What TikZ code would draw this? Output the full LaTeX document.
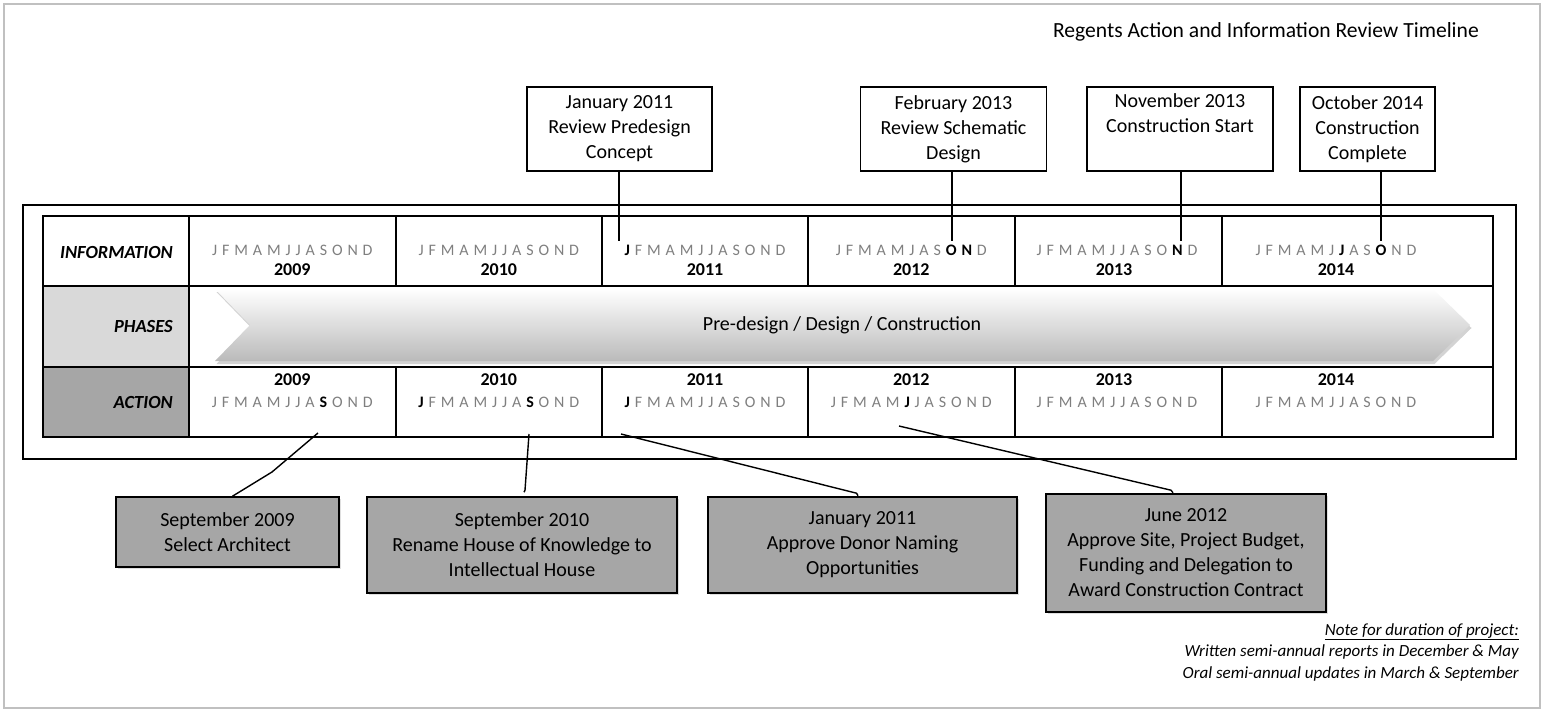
\documentclass[tikz,border=0pt]{standalone}
\usepackage{fontspec}
\setmainfont{Carlito}
\usetikzlibrary{shadows}
\definecolor{mgray}{HTML}{7F7F7F}
\definecolor{lgray}{HTML}{D9D9D9}
\definecolor{dgray}{HTML}{A6A6A6}
\definecolor{bord}{HTML}{C0C0C0}
\newcommand\mg{\hspace{4.9pt}}
\newcommand\mb[1]{{\bfseries\color{black}#1}}
\newcommand\allmon{J\mg F\mg M\mg A\mg M\mg J\mg J\mg A\mg S\mg O\mg N\mg D}
\begin{document}
\begin{tikzpicture}[x=1pt,y=-1pt,
  mon/.style={font=\fontsize{16}{18}\selectfont, text=mgray, inner sep=0},
  yr/.style={font=\fontsize{18}{20}\selectfont\bfseries, inner sep=0},
  lab/.style={font=\fontsize{18.5}{20}\selectfont\bfseries\itshape, anchor=east, inner sep=0},
  topbox/.style={draw, fill=white, line width=1.3pt, minimum height=84, align=center, font=\fontsize{20}{25}\selectfont, inner sep=0},
  botbox/.style={draw, fill=dgray, line width=1.6pt, align=center, font=\fontsize{20}{25}\selectfont, inner sep=0,
    drop shadow={opacity=0.25, shadow xshift=1.5pt, shadow yshift=-1.5pt}},
  conn/.style={line width=1.4pt},
  grid/.style={line width=2pt}
]
\useasboundingbox (0,0) rectangle (1544,712);
\draw[bord, line width=1.6pt] (4,4) rectangle (1540,708);

\node[anchor=east, font=\fontsize{21.6}{25}\selectfont, inner sep=0] (title) at (1479,32) {Regents Action and Information Review Timeline};

% outer frame and table
\draw[grid] (23,205) rectangle (1516,459);
\fill[lgray] (43,286) rectangle (189,367);
\fill[dgray] (43,367) rectangle (189,437);
\path[top color=white, bottom color=black!27, drop shadow={opacity=0.35, shadow xshift=1.5pt, shadow yshift=-3pt}]
  (215,289) -- (1433,289) -- (1470,325) -- (1433,361) -- (215,361) -- (250,325) -- cycle;
\draw[grid] (43,216) rectangle (1493,437);
\draw[grid] (43,286) -- (1493,286) (43,367) -- (1493,367) (189,216) -- (189,437);
\foreach \cx in {395.5,602,808,1014.5,1222}{
  \draw[grid] (\cx,216) -- (\cx,286) (\cx,367) -- (\cx,437);
}

% labels
\node[lab] (linfo) at (173,252) {INFORMATION};
\node[lab] (lphase) at (173,327) {PHASES};
\node[lab] (lact) at (173,402) {ACTION};
\node[font=\fontsize{20}{24}\selectfont, inner sep=0] (ph) at (842,325) {Pre-design / Design / Construction};

% information row
\node[mon] (im1) at (292.3,250) {\allmon};
\node[mon] (im2) at (498.8,250) {\allmon};
\node[mon] (im3) at (705,250) {\mb{J}\mg F\mg M\mg A\mg M\mg J\mg J\mg A\mg S\mg O\mg N\mg D};
\node[mon] (im4) at (911.3,250) {J\mg F\mg M\mg A\mg M\mg J\mg A\mg S\mg \mb{O}\mg \mb{N}\mg D};
\node[mon] (im5) at (1117,250) {J\mg F\mg M\mg A\mg M\mg J\mg J\mg A\mg S\mg O\mg \mb{N}\mg D};
\node[mon] (im6) at (1336,250) {J\mg F\mg M\mg A\mg M\mg J\mg \mb{J}\mg A\mg S\mg \mb{O}\mg N\mg D};
\node[yr] (iy1) at (292.3,270) {2009};
\node[yr] (iy2) at (498.8,270) {2010};
\node[yr] (iy3) at (705,270) {2011};
\node[yr] (iy4) at (911.3,270) {2012};
\node[yr] (iy5) at (1114,270) {2013};
\node[yr] (iy6) at (1336,270) {2014};

% action row
\node[yr] (ay1) at (292.3,380) {2009};
\node[yr] (ay2) at (498.8,380) {2010};
\node[yr] (ay3) at (705,380) {2011};
\node[yr] (ay4) at (911.3,380) {2012};
\node[yr] (ay5) at (1114,380) {2013};
\node[yr] (ay6) at (1336,380) {2014};
\node[mon] (am1) at (292.3,402) {J\mg F\mg M\mg A\mg M\mg J\mg J\mg A\mg \mb{S}\mg O\mg N\mg D};
\node[mon] (am2) at (498.8,402) {\mb{J}\mg F\mg M\mg A\mg M\mg J\mg J\mg A\mg \mb{S}\mg O\mg N\mg D};
\node[mon] (am3) at (705,402) {\mb{J}\mg F\mg M\mg A\mg M\mg J\mg J\mg A\mg S\mg O\mg N\mg D};
\node[mon] (am4) at (911.3,402) {J\mg F\mg M\mg A\mg M\mg \mb{J}\mg J\mg A\mg S\mg O\mg N\mg D};
\node[mon] (am5) at (1117,402) {\allmon};
\node[mon] (am6) at (1336,402) {\allmon};

% top boxes
\node[topbox, minimum width=185] (t1) at (619.5,129) {January 2011\\Review Predesign\\Concept};
\node[topbox, minimum width=186] (t2) at (953.5,129) {February 2013\\Review Schematic\\Design};
\node[topbox, minimum width=186] (t3) at (1180,129) {November 2013\\Construction Start\\\strut};
\node[topbox, minimum width=135] (t4) at (1367.5,129) {October 2014\\Construction\\Complete};
\coordinate (e1) at (619,241);
\coordinate (e2) at (952,241);
\coordinate (e3) at (1181,241);
\coordinate (e4) at (1381,241);
\draw[line width=1.2pt] (t1.south -| e1) -- (e1);
\draw[line width=1.2pt] (t2.south -| e2) -- (e2);
\draw[line width=1.2pt] (t3.south -| e3) -- (e3);
\draw[line width=1.2pt] (t4.south -| e4) -- (e4);

% bottom boxes
\node[botbox, minimum width=223, minimum height=70] (b1) at (227.5,532) {September 2009\\Select Architect};
\node[botbox, minimum width=310, minimum height=96] (b2) at (522,545) {September 2010\\Rename House of Knowledge to\\Intellectual House};
\node[botbox, minimum width=309, minimum height=96] (b3) at (862.5,545) {January 2011\\Approve Donor Naming\\Opportunities};
\node[botbox, minimum width=280, minimum height=118] (b4) at (1186,553) {June 2012\\Approve Site, Project Budget,\\Funding and Delegation to\\Award Construction Contract};
\coordinate (a1) at (318,433);
\coordinate (m1) at (272,472);
\coordinate (a2) at (529,434);
\coordinate (a3) at (621,434);
\coordinate (a4) at (899,426);
\draw[conn] ([xshift=5pt]b1.north) -- (m1) -- (a1);
\draw[conn] ([xshift=2pt,yshift=4pt]b2.north) -- ([xshift=3pt,yshift=6pt]b2.north) -- (a2);
\draw[conn] (a3) -- ([xshift=-6pt,yshift=3pt]b3.north) -- ([xshift=-4.5pt,yshift=0.5pt]b3.north);
\draw[conn] (a4) -- ([xshift=-15pt,yshift=3pt]b4.north) -- ([xshift=-13pt,yshift=0.5pt]b4.north);

% note
\node[anchor=north east, align=right, font=\fontsize{17}{21.5}\selectfont\itshape, inner sep=0] (note) at (1519,623)
  {\underline{Note for duration of project:}\\Written semi-annual reports in December \& May\\Oral semi-annual updates in March \& September};
\end{tikzpicture}
\end{document}
